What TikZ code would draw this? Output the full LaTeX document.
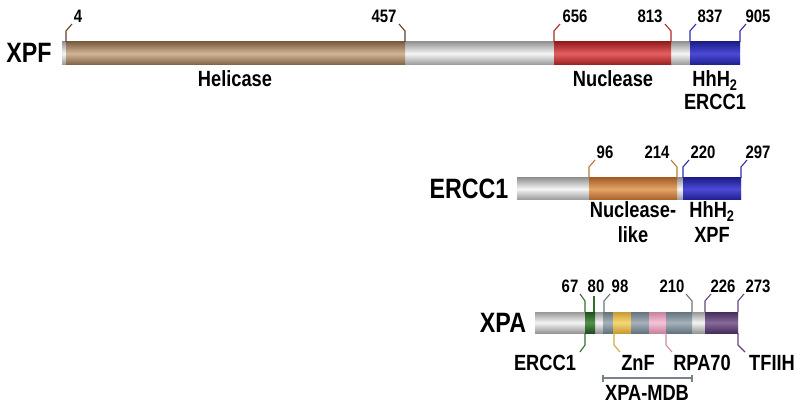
\documentclass[tikz,border=0pt]{standalone}
\usepackage{fontspec}
\setmainfont[FakeStretch=0.83]{Liberation Sans}
\definecolor{grD}{RGB}{150,150,150}\definecolor{grL}{RGB}{245,245,245}
\definecolor{brD}{RGB}{125,95,65}\definecolor{brL}{RGB}{210,180,150}\definecolor{brT}{RGB}{95,65,45}
\definecolor{rdD}{RGB}{150,30,30}\definecolor{rdL}{RGB}{228,95,95}\definecolor{rdT}{RGB}{175,40,40}
\definecolor{blD}{RGB}{30,30,140}\definecolor{blL}{RGB}{75,75,215}\definecolor{blT}{RGB}{45,45,175}
\definecolor{orD}{RGB}{165,95,40}\definecolor{orL}{RGB}{228,165,100}\definecolor{orT}{RGB}{185,120,60}
\definecolor{gnD}{RGB}{30,80,30}\definecolor{gnL}{RGB}{85,145,75}\definecolor{gnT}{RGB}{50,110,50}
\definecolor{ylD}{RGB}{200,155,50}\definecolor{ylL}{RGB}{245,215,120}\definecolor{ylT}{RGB}{210,170,60}
\definecolor{slD}{RGB}{100,115,125}\definecolor{slL}{RGB}{165,178,188}\definecolor{slT}{RGB}{105,118,128}
\definecolor{pkD}{RGB}{200,130,160}\definecolor{pkL}{RGB}{245,195,215}\definecolor{pkT}{RGB}{205,140,170}
\definecolor{puD}{RGB}{70,45,90}\definecolor{puL}{RGB}{135,105,155}\definecolor{puT}{RGB}{100,70,120}
\definecolor{bkT}{RGB}{120,130,140}
\newcommand\seg[5]{\shade[top color=#5D,bottom color=#5D,middle color=#5L] (#1,#3) rectangle (#2,#4);}
\newcommand\tkup[6]{\draw[tk,#4T] (#1,#2) -- ++(0,-11) -- ++(#3,-7);
  \node[num] (n#6) at (#5,#2-19.5) {#6};}
\newcommand\tkdn[4]{\draw[tk,#4T] (#1,#2) -- ++(0,12) -- ++(#3,7);}
\begin{document}
\begin{tikzpicture}[x=1pt,y=-1pt,
  tk/.style={line width=1.1pt},
  num/.style={anchor=base,font=\bfseries\fontsize{18}{18}\selectfont,inner sep=0pt},
  lab/.style={anchor=base,font=\bfseries\fontsize{22}{22}\selectfont,inner sep=0pt},
  big/.style={anchor=base,font=\bfseries\fontsize{28}{28}\selectfont,inner sep=0pt}]
\useasboundingbox[fill=white] (0,0) rectangle (800,406);
% ---------- XPF ----------
\node[big] (xpf) at (29,63) {XPF};
\seg{62}{740}{42}{65}{gr}
\seg{66}{405}{42}{65}{br}
\seg{554}{671}{42}{65}{rd}
\seg{690}{740}{42}{65}{bl}
\tkup{66}{42}{6}{br}{78}{4}
\tkup{405}{42}{-6}{br}{384}{457}
\tkup{554}{42}{6}{rd}{575}{656}
\tkup{671}{42}{-6}{rd}{650}{813}
\tkup{690}{42}{6}{bl}{710}{837}
\tkup{740}{42}{6}{bl}{758}{905}
\node[lab] (hel) at (235,87) {Helicase};
\node[lab] (nuc) at (613,87) {Nuclease};
\node[lab] (hhh1) at (715,87) {HhH\textsubscript{2}};
\node[lab] (erc1) at (715,110) {ERCC1};
% ---------- ERCC1 ----------
\node[big] (ercc) at (469,198) {ERCC1};
\seg{517}{741}{178}{200}{gr}
\seg{589}{677}{178}{200}{or}
\seg{683}{741}{178}{200}{bl}
\tkup{589}{178}{6}{or}{605}{96}
\tkup{677}{178}{-6}{or}{657}{214}
\tkup{683}{178}{6}{bl}{703}{220}
\tkup{741}{178}{6}{bl}{758}{297}
\node[lab] (nl1) at (633,218) {Nuclease-};
\node[lab] (nl2) at (633,242) {like};
\node[lab] (hhh2) at (712,218) {HhH\textsubscript{2}};
\node[lab] (xpf2) at (712,242) {XPF};
% ---------- XPA ----------
\node[big] (xpa) at (503,332) {XPA};
\seg{535}{738}{312}{333}{gr}
\seg{585}{595}{312}{333}{gn}
\seg{603}{613}{312}{333}{sl}
\seg{613}{631}{312}{333}{yl}
\seg{631}{649}{312}{333}{sl}
\seg{649}{666}{312}{333}{pk}
\seg{666}{692}{312}{333}{sl}
\seg{705}{738}{312}{333}{pu}
\tkup{585}{312}{-5}{gn}{570}{67}
\draw[tk,gnT] (594,312) -- (594,296);
\node[num] (n80) at (596,292) {80};
\tkup{604}{312}{6}{sl}{620}{98}
\tkup{692}{312}{-6}{sl}{672}{210}
\tkup{705}{312}{6}{pu}{723}{226}
\tkup{738}{312}{6}{pu}{758}{273}
\tkdn{585}{333}{-5}{gn}
\tkdn{614}{333}{6}{yl}
\tkdn{666}{333}{6}{pk}
\tkdn{738}{333}{7}{pu}
\node[lab] (erc3) at (545,370) {ERCC1};
\node[lab] (znf) at (638,370) {ZnF};
\node[lab] (rpa) at (702,370) {RPA70};
\node[lab] (tf) at (772,370) {TFIIH};
\coordinate (mdbL) at (603,378);
\coordinate (mdbR) at (692,378);
\draw[line width=1.1pt,bkT] (mdbL) -- (mdbR);
\draw[line width=1.1pt,bkT] ([yshift=-3.5pt]mdbL) -- ([yshift=3.5pt]mdbL);
\draw[line width=1.1pt,bkT] ([yshift=-3.5pt]mdbR) -- ([yshift=3.5pt]mdbR);
\node[lab] (mdb) at (647,400.5) {XPA-MDB};
\end{tikzpicture}
\end{document}
